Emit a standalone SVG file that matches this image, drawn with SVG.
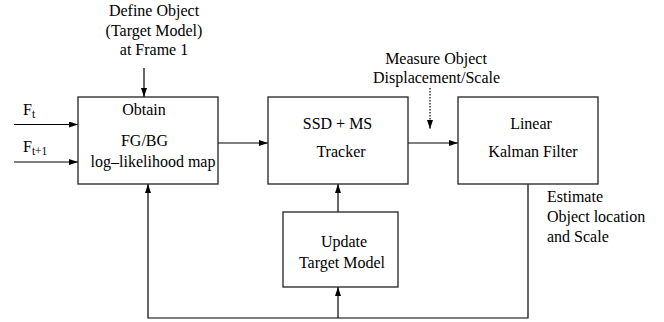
<svg xmlns="http://www.w3.org/2000/svg" width="664" height="322" viewBox="0 0 664 322">
<defs>
<marker id="ah" markerWidth="9" markerHeight="6" refX="9" refY="3" orient="auto" markerUnits="userSpaceOnUse">
<path d="M0,0 L9,3 L0,6 z" fill="#000"/>
</marker>
</defs>
<style>
.box{fill:#fff;stroke:#222;stroke-width:1.3}
.ln{fill:none;stroke:#000;stroke-width:1.2}
.dot{fill:none;stroke:#000;stroke-width:1.2;stroke-dasharray:1.5,1.5}
text{font-family:"Liberation Serif","Times New Roman",serif;font-size:16px;fill:#000}
.c{text-anchor:middle}
.sub{font-size:11.5px}
</style>
<rect width="664" height="322" fill="#fff"/>
<g id="connectors">
<line class="ln" x1="144" y1="68" x2="144" y2="97" marker-end="url(#ah)"/>
<line class="ln" x1="14" y1="124.5" x2="78" y2="124.5" marker-end="url(#ah)"/>
<line class="ln" x1="14" y1="162" x2="78" y2="162" marker-end="url(#ah)"/>
<line class="ln" x1="218" y1="143" x2="268" y2="143" marker-end="url(#ah)"/>
<line class="ln" x1="408" y1="143" x2="458" y2="143" marker-end="url(#ah)"/>
<line class="dot" x1="430" y1="88" x2="430" y2="129" marker-end="url(#ah)"/>
<polyline class="ln" points="528,184 528,318 148,318 148,184" marker-end="url(#ah)"/>
<line class="ln" x1="338" y1="318" x2="338" y2="287" marker-end="url(#ah)"/>
<line class="ln" x1="338" y1="212" x2="338" y2="184" marker-end="url(#ah)"/>
</g>
<g id="labels">
<text class="c" x="154" y="16">Define Object</text>
<text class="c" x="154" y="35.5">(Target Model)</text>
<text class="c" x="154" y="55">at Frame 1</text>
<text x="23" y="115">F<tspan class="sub" dy="3">t</tspan></text>
<text x="23" y="152">F<tspan class="sub" dy="3">t+1</tspan></text>
<text class="c" x="436" y="64">Measure Object</text>
<text class="c" x="436.5" y="83">Displacement/Scale</text>
<text x="547" y="202">Estimate</text>
<text x="547" y="222">Object location</text>
<text x="547" y="242">and Scale</text>
</g>
<g id="obtain">
<rect class="box" x="78" y="97" width="140" height="87"/>
<text class="c" x="144" y="115">Obtain</text>
<text class="c" x="144.5" y="146">FG/BG</text>
<text class="c" x="153" y="167">log–likelihood map</text>
</g>
<g id="tracker">
<rect class="box" x="268" y="97" width="140" height="87"/>
<text class="c" x="337.5" y="129">SSD + MS</text>
<text class="c" x="341" y="157">Tracker</text>
</g>
<g id="kalman">
<rect class="box" x="458" y="97" width="140" height="87"/>
<text class="c" x="531" y="129">Linear</text>
<text class="c" x="533" y="157">Kalman Filter</text>
</g>
<g id="update">
<rect class="box" x="283" y="212" width="115" height="75"/>
<text class="c" x="344" y="247">Update</text>
<text class="c" x="342" y="268">Target Model</text>
</g>
</svg>
